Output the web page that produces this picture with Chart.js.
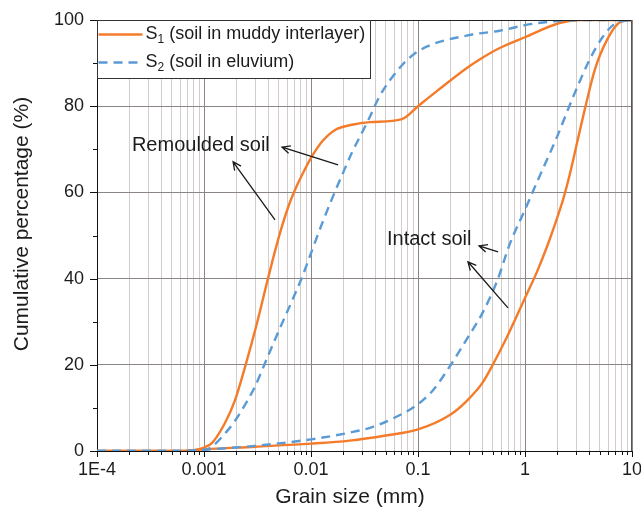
<!DOCTYPE html>
<html>
<head>
<meta charset="utf-8">
<script src="https://cdn.jsdelivr.net/npm/chart.js@4.4.1/dist/chart.umd.min.js"></script>
<style>
  html, body { margin: 0; padding: 0; background: #ffffff; }
  canvas { display: block; }
</style>
</head>
<body>
<canvas id="psd" width="641" height="517"></canvas>
<script>
// Grain size distribution curves: grain size (mm) vs cumulative percentage passing (%)
const s1RemouldedSize = [0.0001, 0.0007, 0.00082, 0.001, 0.00119, 0.00157, 0.00195, 0.00242, 0.00313, 0.00396, 0.00492, 0.0061, 0.00709, 0.00879, 0.01, 0.0127, 0.0168, 0.0242, 0.0356, 0.0708, 0.1, 0.15, 0.28, 0.38, 0.58, 1, 2.1, 3.3, 10];
const s1RemouldedPct  = [0, 0, 0.2, 0.8, 1.9, 6.5, 11.8, 19.5, 29.7, 40, 49, 56.5, 60.6, 65.4, 68, 71.8, 74.5, 75.7, 76.3, 77, 80, 83.5, 88.7, 90.9, 93.5, 96, 99.3, 100, 100];

const s1IntactSize = [0.0001, 0.0006, 0.001, 0.003, 0.01, 0.023, 0.05, 0.1, 0.2, 0.28, 0.4, 0.5, 0.68, 1, 1.29, 1.61, 1.99, 2.28, 2.64, 3.13, 3.64, 4.51, 5.84, 7.73, 10];
const s1IntactPct  = [0, 0, 0.4, 1, 1.7, 2.4, 3.6, 5, 8.4, 11.4, 15.8, 20, 26.5, 35.5, 41.5, 47.5, 54, 58.5, 64.5, 72.5, 79.5, 88.6, 95.4, 99.5, 100];

const s2RemouldedSize = [0.0001, 0.0008, 0.00102, 0.00168, 0.00226, 0.003, 0.00388, 0.00492, 0.00664, 0.00824, 0.0102, 0.0127, 0.0157, 0.0195, 0.0242, 0.0339, 0.0442, 0.0708, 0.104, 0.3, 0.58, 1, 1.7, 4, 10];
const s2RemouldedPct  = [0, 0, 0.2, 4.9, 9.5, 15, 21.5, 27.5, 34.8, 40.3, 46.5, 52.8, 58.5, 64, 69.3, 76.5, 82.5, 89.5, 93, 96.5, 97.5, 98.8, 99.6, 100, 100];

const s2IntactSize = [0.0001, 0.0006, 0.001, 0.003, 0.01, 0.0233, 0.0379, 0.0635, 0.098, 0.137, 0.199, 0.283, 0.4, 0.55, 0.72, 1, 1.3, 2, 2.8, 4, 5.3, 7.1, 10];
const s2IntactPct  = [0, 0, 0.3, 1.2, 2.7, 4.3, 5.6, 8, 10.7, 14, 19.7, 25.8, 32, 39.5, 48, 56, 62.5, 73, 82, 90.7, 96, 99.3, 100];

// Axis ticks
const xDecades    = [0.0001, 0.001, 0.01, 0.1, 1, 10];
const xTickLabels = ['1E-4', '0.001', '0.01', '0.1', '1', '10'];
const yTickValues = [0, 20, 40, 60, 80, 100];
const yTickLabels = ['0', '20', '40', '60', '80', '100'];

// Legend entries (symbol, subscript, description)
const seriesSymbols = ['S', 'S'];
const seriesSubs    = ['1', '2'];
const seriesDescs   = [' (soil in muddy interlayer)', ' (soil in eluvium)'];

// Callout labels, anchored in data units: [grain size, percentage]
const calloutTexts   = ['Remoulded soil', 'Intact soil'];
const calloutAnchors = [[0.000212, 71.0], [0.0513, 49.0]];
const calloutArrows  = [
  [[0.00461, 53.6, 0.00187, 67.1], [0.0179, 66.4, 0.00536, 70.5]],
  [[0.560, 46.2, 0.372, 47.6], [0.693, 33.2, 0.293, 43.9]]
];

const ORANGE = '#f47b2a';
const BLUE = '#5b9bd5';
const FONT = "'Liberation Sans', Arial, Helvetica, sans-serif";
const TEXT = '#1c1c1c';

Chart.defaults.font.family = FONT;
Chart.defaults.color = TEXT;

const toPoints = (xs, ys) => xs.map((x, i) => ({ x: x, y: ys[i] }));
const isDecade = v => Math.abs(Math.log10(v) - Math.round(Math.log10(v))) < 1e-6;

function lineSet(label, xs, ys, color, dashed) {
  return {
    label: label,
    data: toPoints(xs, ys),
    borderColor: color,
    backgroundColor: color,
    borderWidth: 2.4,
    borderDash: dashed ? [9, 6] : [],
    pointRadius: 0,
    pointHoverRadius: 0,
    fill: false,
    cubicInterpolationMode: 'monotone'
  };
}

// Tick marks drawn outward from both axes (longer at labelled positions)
const tickMarks = {
  id: 'tickMarks',
  afterDraw(chart) {
    const { ctx, chartArea: a } = chart;
    const x = chart.scales.x, y = chart.scales.y;
    ctx.save();
    ctx.strokeStyle = '#111';
    ctx.lineWidth = 1;
    ctx.beginPath();
    x.ticks.forEach(t => {
      const px = Math.round(x.getPixelForValue(t.value)) + 0.5;
      const len = isDecade(t.value) ? 6 : 4;
      ctx.moveTo(px, a.bottom);
      ctx.lineTo(px, a.bottom + len);
    });
    y.ticks.forEach(t => {
      const py = Math.round(y.getPixelForValue(t.value)) + 0.5;
      const len = yTickValues.includes(t.value) ? 7 : 4;
      ctx.moveTo(a.left - len, py);
      ctx.lineTo(a.left, py);
    });
    ctx.stroke();
    ctx.restore();
  }
};

// Top and right edges of the plotting frame
const frame = {
  id: 'frame',
  afterDatasetsDraw(chart) {
    const { ctx, chartArea: a } = chart;
    ctx.save();
    ctx.lineWidth = 1;
    ctx.strokeStyle = '#222';
    ctx.beginPath();
    ctx.moveTo(a.left, Math.round(a.top) + 0.5);
    ctx.lineTo(a.right, Math.round(a.top) + 0.5);
    ctx.stroke();
    ctx.strokeStyle = '#555';
    ctx.beginPath();
    ctx.moveTo(Math.round(a.right) - 0.5, a.top);
    ctx.lineTo(Math.round(a.right) - 0.5, a.bottom);
    ctx.stroke();
    ctx.restore();
  }
};

function drawArrow(ctx, x0, y0, x1, y1) {
  const ang = Math.atan2(y1 - y0, x1 - x0);
  const h = 9, spread = 0.45;
  ctx.beginPath();
  ctx.moveTo(x0, y0);
  ctx.lineTo(x1, y1);
  ctx.moveTo(x1 - h * Math.cos(ang - spread), y1 - h * Math.sin(ang - spread));
  ctx.lineTo(x1, y1);
  ctx.lineTo(x1 - h * Math.cos(ang + spread), y1 - h * Math.sin(ang + spread));
  ctx.stroke();
}

// Callout labels with arrows pointing at the curve groups
const callouts = {
  id: 'callouts',
  afterDatasetsDraw(chart) {
    const { ctx } = chart;
    const x = chart.scales.x, y = chart.scales.y;
    ctx.save();
    ctx.fillStyle = TEXT;
    ctx.strokeStyle = '#1a1a1a';
    ctx.lineWidth = 1.3;
    ctx.font = '20px ' + FONT;
    ctx.textAlign = 'left';
    ctx.textBaseline = 'middle';
    calloutTexts.forEach((txt, i) => {
      const [gx, gy] = calloutAnchors[i];
      ctx.fillText(txt, x.getPixelForValue(gx), y.getPixelForValue(gy));
      calloutArrows[i].forEach(([ax0, ay0, ax1, ay1]) => {
        drawArrow(ctx,
          x.getPixelForValue(ax0), y.getPixelForValue(ay0),
          x.getPixelForValue(ax1), y.getPixelForValue(ay1));
      });
    });
    ctx.restore();
  }
};

// Boxed legend with subscripted series names
const boxLegend = {
  id: 'boxLegend',
  afterDatasetsDraw(chart) {
    const { ctx, chartArea: a } = chart;
    const left = Math.round(a.left) + 0.5, top = Math.round(a.top) + 0.5;
    const w = 273, h = 58;
    ctx.save();
    ctx.fillStyle = '#ffffff';
    ctx.fillRect(left, top, w, h);
    ctx.strokeStyle = '#333';
    ctx.lineWidth = 1;
    ctx.strokeRect(left, top, w, h);
    const colors = [ORANGE, BLUE];
    const dashes = [[], [9, 6]];
    const rows = [top + 14, top + 42];
    rows.forEach((ry, i) => {
      ctx.strokeStyle = colors[i];
      ctx.lineWidth = 2.4;
      ctx.setLineDash(dashes[i]);
      ctx.beginPath();
      ctx.moveTo(left + 1, ry);
      ctx.lineTo(left + 45, ry);
      ctx.stroke();
      ctx.setLineDash([]);
      ctx.fillStyle = TEXT;
      ctx.textBaseline = 'middle';
      ctx.textAlign = 'left';
      let tx = left + 48;
      ctx.font = '18px ' + FONT;
      ctx.fillText(seriesSymbols[i], tx, ry);
      tx += ctx.measureText(seriesSymbols[i]).width;
      ctx.font = '12px ' + FONT;
      ctx.fillText(seriesSubs[i], tx, ry + 5);
      tx += ctx.measureText(seriesSubs[i]).width;
      ctx.font = '18px ' + FONT;
      ctx.fillText(seriesDescs[i], tx, ry);
    });
    ctx.restore();
  }
};

// Axis titles
const axisTitles = {
  id: 'axisTitles',
  afterDraw(chart) {
    const { ctx } = chart;
    ctx.save();
    ctx.fillStyle = TEXT;
    ctx.font = '21px ' + FONT;
    ctx.textAlign = 'center';
    ctx.textBaseline = 'middle';
    ctx.fillText('Grain size (mm)', 350, 497);
    ctx.translate(22, 224);
    ctx.rotate(-Math.PI / 2);
    ctx.fillText('Cumulative percentage (%)', 0, 0);
    ctx.restore();
  }
};

const whiteBg = {
  id: 'whiteBg',
  beforeDraw(chart) {
    const { ctx, width, height } = chart;
    ctx.save();
    ctx.fillStyle = '#ffffff';
    ctx.fillRect(0, 0, width, height);
    ctx.restore();
  }
};

new Chart(document.getElementById('psd'), {
  type: 'line',
  data: {
    datasets: [
      lineSet('S2 remoulded', s2RemouldedSize, s2RemouldedPct, BLUE, true),
      lineSet('S2 intact', s2IntactSize, s2IntactPct, BLUE, true),
      lineSet('S1 remoulded', s1RemouldedSize, s1RemouldedPct, ORANGE, false),
      lineSet('S1 intact', s1IntactSize, s1IntactPct, ORANGE, false)
    ]
  },
  options: {
    responsive: false,
    animation: false,
    devicePixelRatio: 1,
    layout: { padding: { top: 20, right: 9, left: 0, bottom: 0 } },
    plugins: {
      legend: { display: false },
      tooltip: { enabled: false },
      title: { display: false }
    },
    scales: {
      x: {
        type: 'logarithmic',
        min: 0.0001,
        max: 10,
        afterBuildTicks(scale) {
          const ticks = [];
          for (let d = 0; d < xDecades.length - 1; d++) {
            for (let m = 1; m <= 9; m++) {
              ticks.push({ value: +(m * xDecades[d]).toPrecision(6) });
            }
          }
          ticks.push({ value: xDecades[xDecades.length - 1] });
          scale.ticks = ticks;
        },
        afterFit(scale) {
          scale.height = 66;
          scale.paddingLeft = 0;
          scale.paddingRight = 0;
        },
        ticks: {
          autoSkip: false,
          maxRotation: 0,
          padding: 8,
          color: TEXT,
          font: { size: 18 },
          callback(value) {
            const i = xDecades.findIndex(d => Math.abs(d - value) / d < 1e-6);
            return i >= 0 ? xTickLabels[i] : '';
          }
        },
        grid: {
          drawTicks: false,
          lineWidth: 1,
          color(ctx) {
            if (!ctx.tick) return 'rgba(0,0,0,0)';
            return isDecade(ctx.tick.value) ? '#8c8585' : '#d2cccc';
          }
        },
        border: { display: true, color: '#111', width: 1 }
      },
      y: {
        type: 'linear',
        min: 0,
        max: 100,
        afterFit(scale) {
          scale.width = 97;
          scale.paddingTop = 0;
          scale.paddingBottom = 0;
        },
        ticks: {
          stepSize: 10,
          padding: 13,
          color: TEXT,
          font: { size: 18 },
          callback(value) {
            const i = yTickValues.indexOf(value);
            return i >= 0 ? yTickLabels[i] : '';
          }
        },
        grid: {
          drawTicks: false,
          lineWidth: 1,
          color(ctx) {
            if (!ctx.tick) return 'rgba(0,0,0,0)';
            const v = ctx.tick.value;
            return (v > 0 && v < 100 && v % 20 === 0) ? '#8c8585' : 'rgba(0,0,0,0)';
          }
        },
        border: { display: true, color: '#111', width: 1 }
      }
    }
  },
  plugins: [whiteBg, frame, callouts, boxLegend, tickMarks, axisTitles]
});
</script>
</body>
</html>
